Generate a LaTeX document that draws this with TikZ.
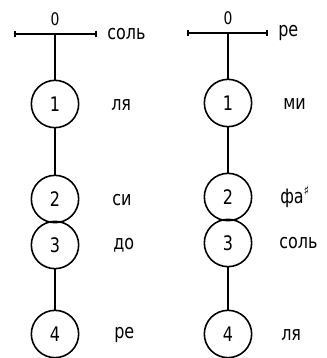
\documentclass[tikz,border=0pt]{standalone}
\usepackage{fontspec}
\setmainfont{DejaVu Sans}[FakeStretch=0.8]
\usetikzlibrary{
  arrows.meta,
  positioning
}

\begin{document}
\begin{tikzpicture}[x=0.75pt, y=-0.75pt,
            stage/.style={circle, draw, line width=1.2pt, minimum size=35.5pt, inner sep=0pt, font=\fontsize{15}{15}\selectfont},
            note/.style={anchor=west, inner sep=0pt, font=\fontsize{15}{15}\selectfont},
            zero/.style={inner sep=0pt, font=\fontsize{13}{13}\selectfont},
            bar/.style={{Bar[width=5pt]}-{Bar[width=5pt]}, line width=1.2pt},
            link/.style={line width=1pt}]
            \useasboundingbox (0,0) rectangle (327,358);
            % left scale
            \coordinate (la) at (14,34);
            \coordinate (lb) at (97,34);
            \coordinate (lo) at (55,34);
            \draw [bar] (la) -- (lb);
            \node [zero] (lz) at (55,19) {0};
            \node [note] (ln0) at (107,34) {соль};
            \node [stage] (l1) at (55,104) {1};
            \node [stage] (l2) at (55,199) {2};
            \node [stage] (l3) at (55,245) {3};
            \node [stage] (l4) at (55,334) {4};
            \node [note] (ln1) at (111,105) {ля};
            \node [note] (ln2) at (112,200) {си};
            \node [note] (ln3) at (113,245) {до};
            \node [note] (ln4) at (114,335) {ре};
            \draw [link] (lo) -- (l1);
            \draw [link] (l1) -- (l2);
            \draw [link] (l3) -- (l4);
            % right scale
            \coordinate (ra) at (187,33);
            \coordinate (rb) at (268,33);
            \coordinate (ro) at (228,33);
            \draw [bar] (ra) -- (rb);
            \node [zero] (rz) at (228,18) {0};
            \node [note] (rn0) at (278,33) {ре};
            \node [stage] (r1) at (228,103) {1};
            \node [stage] (r2) at (228,197) {2};
            \node [stage] (r3) at (228,243) {3};
            \node [stage] (r4) at (228,334) {4};
            \node [note] (rn1) at (283,104) {ми};
            \node [note] (rn2) at (280,197) {фа\raisebox{0.75ex}{\fontsize{10}{10}\selectfont ♯}};
            \node [note] (rn3) at (279,243) {соль};
            \node [note] (rn4) at (281,335) {ля};
            \draw [link] (ro) -- (r1);
            \draw [link] (r1) -- (r2);
            \draw [link] (r3) -- (r4);
        \end{tikzpicture}
\end{document}
